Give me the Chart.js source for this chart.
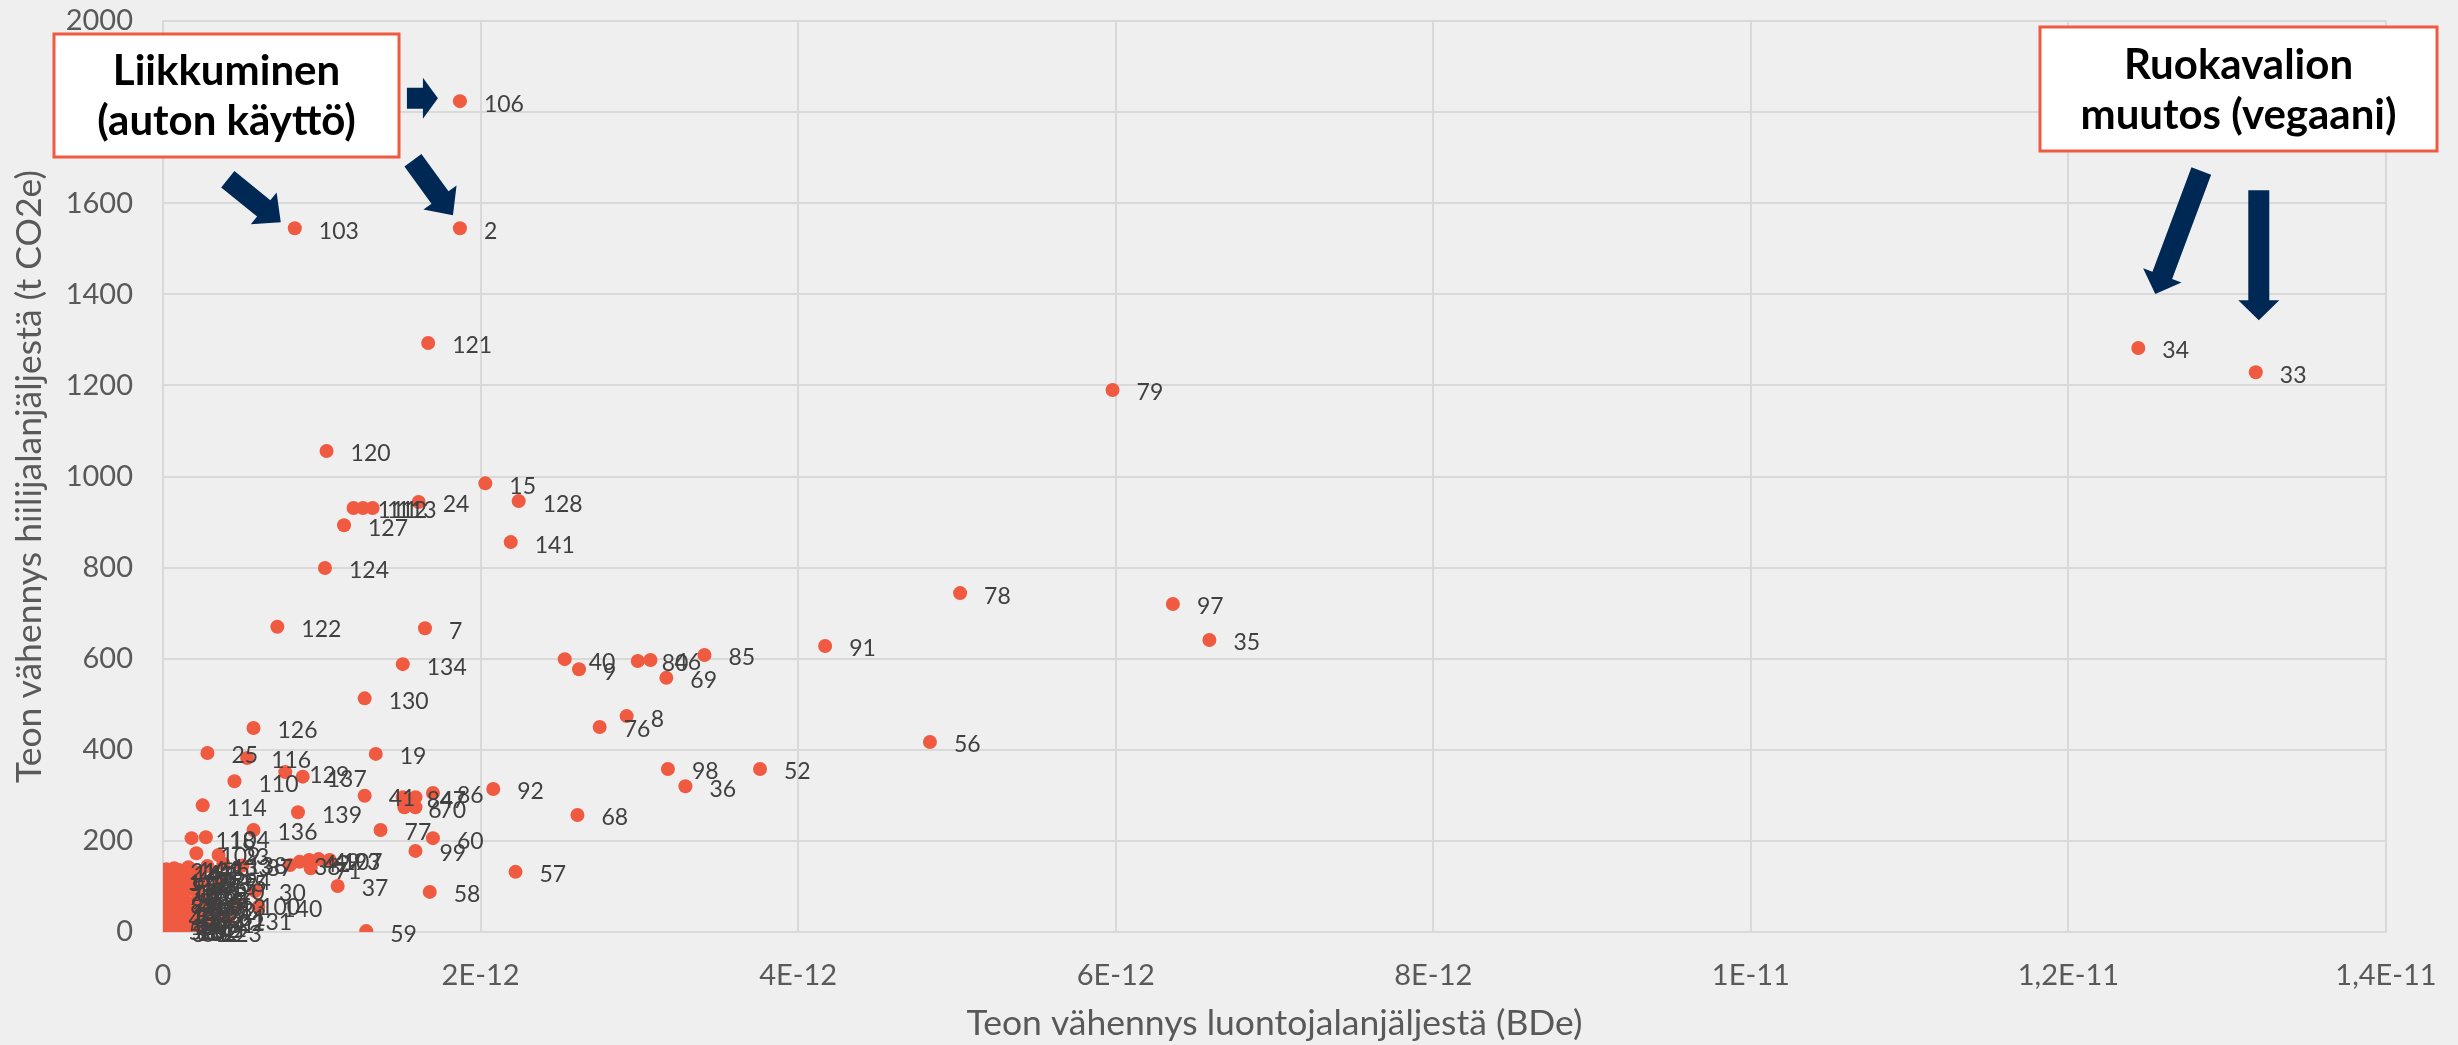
<!DOCTYPE html>
<html><head><meta charset="utf-8">
<script src="https://cdn.jsdelivr.net/npm/chart.js@4.4.0/dist/chart.umd.min.js"></script>
<style>html,body{margin:0;padding:0;background:#efefef;overflow:hidden}#wrap{width:2458px;height:1045px;position:relative}</style>
</head><body><div id="wrap"><canvas id="c" width="2458" height="1045"></canvas></div>
<script>
// ---- data ----
const pointLabels = [
 '106','103','2','121','79','34','33','120','15','128','111','112','113','24','127','141','124','122','7','134','130',
 '40','9','80','46','85','69','91','78','97','35','8','76','56','98','52','36','92','68',
 '126','25','116','19','110','129','137','114','139','41','84','47','86','6','70','77','60','99','57','58','37','59','136',
 '93','38','42','49','107','71','118','104','109','23',
 '21','14','1','102','43','44','45','53','133','138','87',
 '117','95','67','39','132','29','115','135','94',
 '73','10','105','16','61','75','90','20','30',
 '89','26','55','108','125','11','65','66','13','100','140',
 '48','119','28','83','74','96','32','17','72','81','131',
 '101','54','5','27','4','82','51','31','22',
 '50','3','88','63','64','62','12','18','123'
];
const xValues = [
 1.87e-12,0.83e-12,1.87e-12,1.67e-12,5.98e-12,12.44e-12,13.18e-12,1.03e-12,2.03e-12,2.24e-12,1.20e-12,1.26e-12,1.32e-12,1.61e-12,1.14e-12,2.19e-12,1.02e-12,0.72e-12,1.65e-12,1.51e-12,1.27e-12,
 2.53e-12,2.62e-12,2.99e-12,3.07e-12,3.41e-12,3.17e-12,4.17e-12,5.02e-12,6.36e-12,6.59e-12,2.92e-12,2.75e-12,4.83e-12,3.18e-12,3.76e-12,3.29e-12,2.08e-12,2.61e-12,
 0.57e-12,0.28e-12,0.53e-12,1.34e-12,0.45e-12,0.77e-12,0.88e-12,0.25e-12,0.85e-12,1.27e-12,1.51e-12,1.59e-12,1.70e-12,1.52e-12,1.59e-12,1.37e-12,1.70e-12,1.59e-12,2.22e-12,1.68e-12,1.10e-12,1.28e-12,0.57e-12,
 1.05e-12,0.80e-12,0.86e-12,0.92e-12,0.98e-12,0.93e-12,0.18e-12,0.27e-12,0.21e-12,0.35e-12,
 0.02e-12,0.04e-12,0.07e-12,0.10e-12,0.13e-12,0.16e-12,0.19e-12,0.23e-12,0.28e-12,0.38e-12,0.50e-12,
 0.01e-12,0.03e-12,0.06e-12,0.09e-12,0.12e-12,0.15e-12,0.19e-12,0.25e-12,0.36e-12,
 0.01e-12,0.03e-12,0.06e-12,0.09e-12,0.12e-12,0.16e-12,0.21e-12,0.32e-12,0.58e-12,
 0.02e-12,0.04e-12,0.07e-12,0.10e-12,0.13e-12,0.16e-12,0.20e-12,0.25e-12,0.33e-12,0.46e-12,0.60e-12,
 0.01e-12,0.03e-12,0.06e-12,0.09e-12,0.12e-12,0.15e-12,0.18e-12,0.22e-12,0.27e-12,0.33e-12,0.41e-12,
 0.02e-12,0.05e-12,0.08e-12,0.11e-12,0.14e-12,0.17e-12,0.21e-12,0.26e-12,0.32e-12,
 0.01e-12,0.03e-12,0.06e-12,0.09e-12,0.12e-12,0.15e-12,0.18e-12,0.07e-12,0.22e-12
];
const yValues = [
 1824,1545,1545,1293,1190,1282,1229,1056,985,946,931,931,931,944,893,856,799,670,667,588,513,
 599,577,595,597,608,558,628,744,720,641,474,450,417,358,358,320,314,257,
 448,393,382,391,331,351,341,278,263,299,296,296,305,274,274,224,206,178,132,88,101,2,224,
 158,147,154,158,160,140,206,208,173,169,
 138,132,140,136,131,142,134,128,145,150,146,
 112,104,120,110,118,108,104,110,114,
 82,92,88,96,84,94,90,94,90,
 62,66,72,58,74,62,66,70,57,60,55,
 34,48,40,50,36,46,32,42,50,36,28,
 16,22,14,24,18,10,12,20,24,
 6,2,4,0,4,3,1,8,0
];
const xTickValues = [0,2e-12,4e-12,6e-12,8e-12,1e-11,1.2e-11,1.4e-11];
const xTickLabels = ['0','2E-12','4E-12','6E-12','8E-12','1E-11','1,2E-11','1,4E-11'];
const yTickValues = [0,200,400,600,800,1000,1200,1400,1600,1800,2000];
const xTitle = 'Teon vähennys luontojalanjäljestä (BDe)';
const yTitle = 'Teon vähennys hiilijalanjäljestä (t CO2e)';
const callouts = [
  {lines:['Liikkuminen','(auton käyttö)'], box:[54,34,345,123]},
  {lines:['Ruokavalion','muutos (vegaani)'], box:[2040,27,397,124]}
];
// arrows: target label, tip offset, tail offset (px from point)
const arrows = [
  {target:'106', tip:[-22,-3], tail:[-53,-3], headL:15},
  {target:'103', tip:[-14,-6], tail:[-67,-49], headL:22},
  {target:'2', tip:[-7,-13], tail:[-47,-68], headL:22},
  {target:'34', tip:[17,-54], tail:[63,-177], headL:20},
  {target:'33', tip:[3,-52], tail:[3,-182], headL:20}
];

const GREY = '#595959';
const GRID = '#d9d9d9';
const PT = '#ef5a40';
const NAVY = '#002855';

const points = pointLabels.map((l,i)=>({x:xValues[i], y:yValues[i]}));

const bgPlugin = {
  id:'bg',
  beforeDraw(chart){
    const c = chart.ctx; c.save(); c.fillStyle='#efefef'; c.fillRect(0,0,chart.width,chart.height); c.restore();
  }
};
const labelPlugin = {
  id:'plabels',
  afterDatasetsDraw(chart){
    const ctx = chart.ctx; const meta = chart.getDatasetMeta(0);
    ctx.save();
    ctx.font = '23px Lato'; ctx.fillStyle = '#404040';
    ctx.textAlign='left'; ctx.textBaseline='middle';
    meta.data.forEach((el,i)=>{ ctx.fillText(pointLabels[i], el.x+24, el.y+3); });
    ctx.restore();
  }
};
function drawArrow(ctx, tx, ty, hx, hy, shaftW, headW, headL){
  const dx = hx-tx, dy = hy-ty; const len = Math.hypot(dx,dy);
  const ux = dx/len, uy = dy/len; const px = -uy, py = ux;
  const bx = hx-ux*headL, by = hy-uy*headL;
  ctx.beginPath();
  ctx.moveTo(tx+px*shaftW/2, ty+py*shaftW/2);
  ctx.lineTo(bx+px*shaftW/2, by+py*shaftW/2);
  ctx.lineTo(bx+px*headW/2, by+py*headW/2);
  ctx.lineTo(hx, hy);
  ctx.lineTo(bx-px*headW/2, by-py*headW/2);
  ctx.lineTo(bx-px*shaftW/2, by-py*shaftW/2);
  ctx.lineTo(tx-px*shaftW/2, ty-py*shaftW/2);
  ctx.closePath(); ctx.fill();
}
const annoPlugin = {
  id:'anno',
  afterDraw(chart){
    const ctx = chart.ctx; const meta = chart.getDatasetMeta(0);
    ctx.save();
    ctx.fillStyle = NAVY;
    arrows.forEach(a=>{
      const el = meta.data[pointLabels.indexOf(a.target)];
      drawArrow(ctx, el.x+a.tail[0], el.y+a.tail[1], el.x+a.tip[0], el.y+a.tip[1], 21, 41, a.headL);
    });
    callouts.forEach(c=>{
      const [x,y,w,h] = c.box;
      ctx.fillStyle='#ffffff'; ctx.fillRect(x,y,w,h);
      ctx.strokeStyle=PT; ctx.lineWidth=3; ctx.strokeRect(x,y,w,h);
      ctx.fillStyle='#000000'; ctx.font='bold 42px Lato'; ctx.textAlign='center'; ctx.textBaseline='middle';
      ctx.fillText(c.lines[0], x+w/2, y+h/2-24);
      ctx.fillText(c.lines[1], x+w/2, y+h/2+26);
    });
    ctx.restore();
  }
};

new Chart(document.getElementById('c'), {
  type:'scatter',
  data:{ datasets:[{ data: points, backgroundColor: PT, borderColor: PT, pointRadius: 7, pointHoverRadius: 7, borderWidth: 0 }] },
  options:{
    responsive:false, animation:false, devicePixelRatio:1,
    layout:{ padding:{ left:0, right:72, top:21, bottom:0 } },
    plugins:{ legend:{display:false}, tooltip:{enabled:false} },
    scales:{
      x:{
        type:'linear', min:0, max:1.4e-11,
        afterBuildTicks(s){ s.ticks = xTickValues.map(v=>({value:v})); },
        afterFit(s){ s.height = 113; },
        ticks:{ callback:(v,i)=>xTickLabels[i], font:{family:'Lato', size:29}, color:GREY, padding:0, maxRotation:0, autoSkip:false },
        grid:{ color:GRID, lineWidth:2, drawTicks:true, tickLength:26, tickColor:'rgba(0,0,0,0)' },
        border:{ color:GRID, width:2 },
        title:{ display:true, text:xTitle, font:{family:'Lato', size:35.5}, color:GREY, padding:{top:0,bottom:0} }
      },
      y:{
        type:'linear', min:0, max:2000,
        afterBuildTicks(s){ s.ticks = yTickValues.map(v=>({value:v})); },
        afterFit(s){ s.width = 163; },
        ticks:{ font:{family:'Lato', size:29}, color:GREY, padding:0, callback:v=>String(v) },
        grid:{ color:GRID, lineWidth:2, drawTicks:true, tickLength:30, tickColor:'rgba(0,0,0,0)' },
        border:{ color:GRID, width:2 },
        title:{ display:true, text:yTitle, font:{family:'Lato', size:35.5}, color:GREY, padding:{top:8,bottom:0} }
      }
    }
  },
  plugins:[bgPlugin, labelPlugin, annoPlugin]
});
</script></body></html>
